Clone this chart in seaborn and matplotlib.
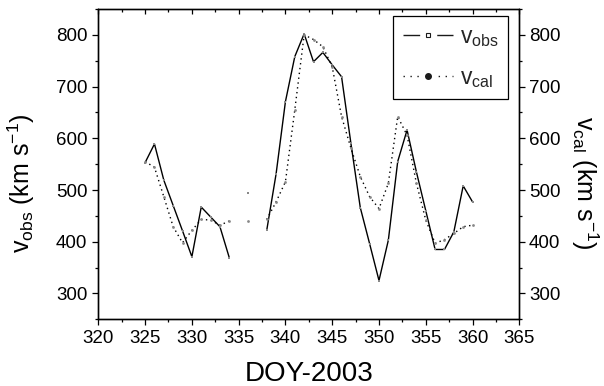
import numpy as np
import pandas as pd
import matplotlib
matplotlib.use("Agg")
import matplotlib.pyplot as plt
import seaborn as sns
from matplotlib.lines import Line2D
from matplotlib.ticker import MultipleLocator

# ---- data ----
days = list(range(325, 361))
v_obs = [553, 589, 519, 470, 421, 371, 467, 448, 429, 369,
         np.nan, 495, np.nan,
         422, 531, 671, 758, 802, 748, 766, 742, 719, 590, 466, 396, 325,
         403, 555, 616, 535, 460, 385, 385, 419, 508, 477]
v_cal = [555, 544, 487, 429, 398, 422, 443, 442, 432, 440,
         np.nan, 440, np.nan,
         443, 477, 516, 655, 800, 791, 777, 738, 642, 581, 526, 487, 464,
         513, 642, 606, 513, 442, 397, 404, 416, 429, 432]
x_ticks = [320, 325, 330, 335, 340, 345, 350, 355, 360, 365]
y_ticks = [300, 400, 500, 600, 700, 800]


def segmented(values):
    seg, rows = 0, []
    for d, v in zip(days, values):
        if np.isnan(v):
            seg += 1
            continue
        rows.append({"day": d, "v": v, "seg": seg})
    return pd.DataFrame(rows)


df_obs = segmented(v_obs)
df_cal = segmented(v_cal)

sns.set_theme(style="ticks")
plt.rcParams["font.family"] = ["Liberation Sans", "DejaVu Sans"]
plt.rcParams["mathtext.fontset"] = "custom"
plt.rcParams["mathtext.rm"] = "Liberation Sans"
plt.rcParams["mathtext.it"] = "Liberation Sans:italic"
plt.rcParams["mathtext.default"] = "regular"
plt.rcParams["axes.linewidth"] = 0.9

fig = plt.figure(figsize=(6.04, 3.86), dpi=100)
ax = fig.add_axes([0.1628, 0.1728, 0.6970, 0.8039])

dotted = (0, (1, 2.5))
sns.lineplot(data=df_obs, x="day", y="v", units="seg", estimator=None,
             sort=False, color="black", lw=1.0, marker="s", markersize=2,
             markeredgewidth=0, markerfacecolor="#888888", ax=ax, legend=False)
sns.lineplot(data=df_cal, x="day", y="v", units="seg", estimator=None,
             sort=False, color="black", lw=1.0, linestyle=dotted, marker="o",
             markersize=2, markeredgewidth=0, markerfacecolor="#888888",
             ax=ax, legend=False)

ax.set_xlim(320, 365)
ax.set_ylim(250, 850)
ax.set_xticks(x_ticks)
ax.set_yticks(y_ticks)
ax.xaxis.set_minor_locator(MultipleLocator(2.5))
ax.yaxis.set_minor_locator(MultipleLocator(50))
ax.tick_params(which="both", direction="out", top=False, right=False,
               labelsize=13.5, width=0.9, color="black", labelcolor="black")
ax.tick_params(which="major", length=4.5, pad=3.5)
ax.tick_params(which="minor", length=2.3)
for s in ax.spines.values():
    s.set_color("black")
    s.set_linewidth(0.9)

# top axis: inward ticks
axt = ax.twiny()
axt.set_xlim(320, 365)
axt.set_xticks(x_ticks)
axt.xaxis.set_minor_locator(MultipleLocator(2.5))
axt.tick_params(which="both", direction="in", top=True, bottom=False,
                labeltop=False, labelbottom=False, width=0.9, color="black")
axt.tick_params(which="major", length=3.8)
axt.tick_params(which="minor", length=2.3)

# right axis
axr = ax.twinx()
axr.set_ylim(250, 850)
axr.set_yticks(y_ticks)
axr.yaxis.set_minor_locator(MultipleLocator(50))
axr.tick_params(which="both", direction="out", labelsize=13.5, width=0.9,
                color="black", labelcolor="black")
axr.tick_params(which="major", length=4.5, pad=2.5)
axr.tick_params(which="minor", length=2.3)
for a in (axt, axr):
    for s in a.spines.values():
        s.set_color("black")
        s.set_linewidth(0.9)

ax.set_xlabel("DOY-2003", fontsize=20, color="black")
ax.xaxis.set_label_coords(0.5, -0.135)
ax.set_ylabel("v$_{obs}$ (km s$^{-1}$)", fontsize=18, color="black")
ax.yaxis.set_label_coords(-0.146, 0.44)
axr.set_ylabel("v$_{cal}$ (km s$^{-1}$)", fontsize=18, color="black",
               rotation=270, va="center")
axr.yaxis.set_label_coords(1.155, 0.44)

# legend handles: line broken around the marker, as in the reference
obs_handle = Line2D([], [], color="k", lw=1.0, ls=(0, (12, 12.3, 12, 100)),
                    marker="s", ms=3.5, mfc="white", mec="k", mew=0.8)
cal_handle = Line2D([], [], color="k", lw=1.0,
                    ls=(0, (1, 4, 1, 4, 1, 14.3, 1, 4, 1, 4, 1, 100)),
                    marker="o", ms=4, mfc="k", mec="k")
leg = ax.legend([obs_handle, cal_handle], ["v$_{obs}$", "v$_{cal}$"],
                loc="upper right", bbox_to_anchor=(0.973, 0.977),
                borderaxespad=0, frameon=True, fancybox=False, framealpha=1,
                edgecolor="black", fontsize=16.5, handlelength=2.2,
                handletextpad=0.3, labelspacing=0.75, borderpad=0.4)
leg.get_frame().set_linewidth(0.9)
leg.set_zorder(10)

fig.savefig("out.png", dpi=100)
